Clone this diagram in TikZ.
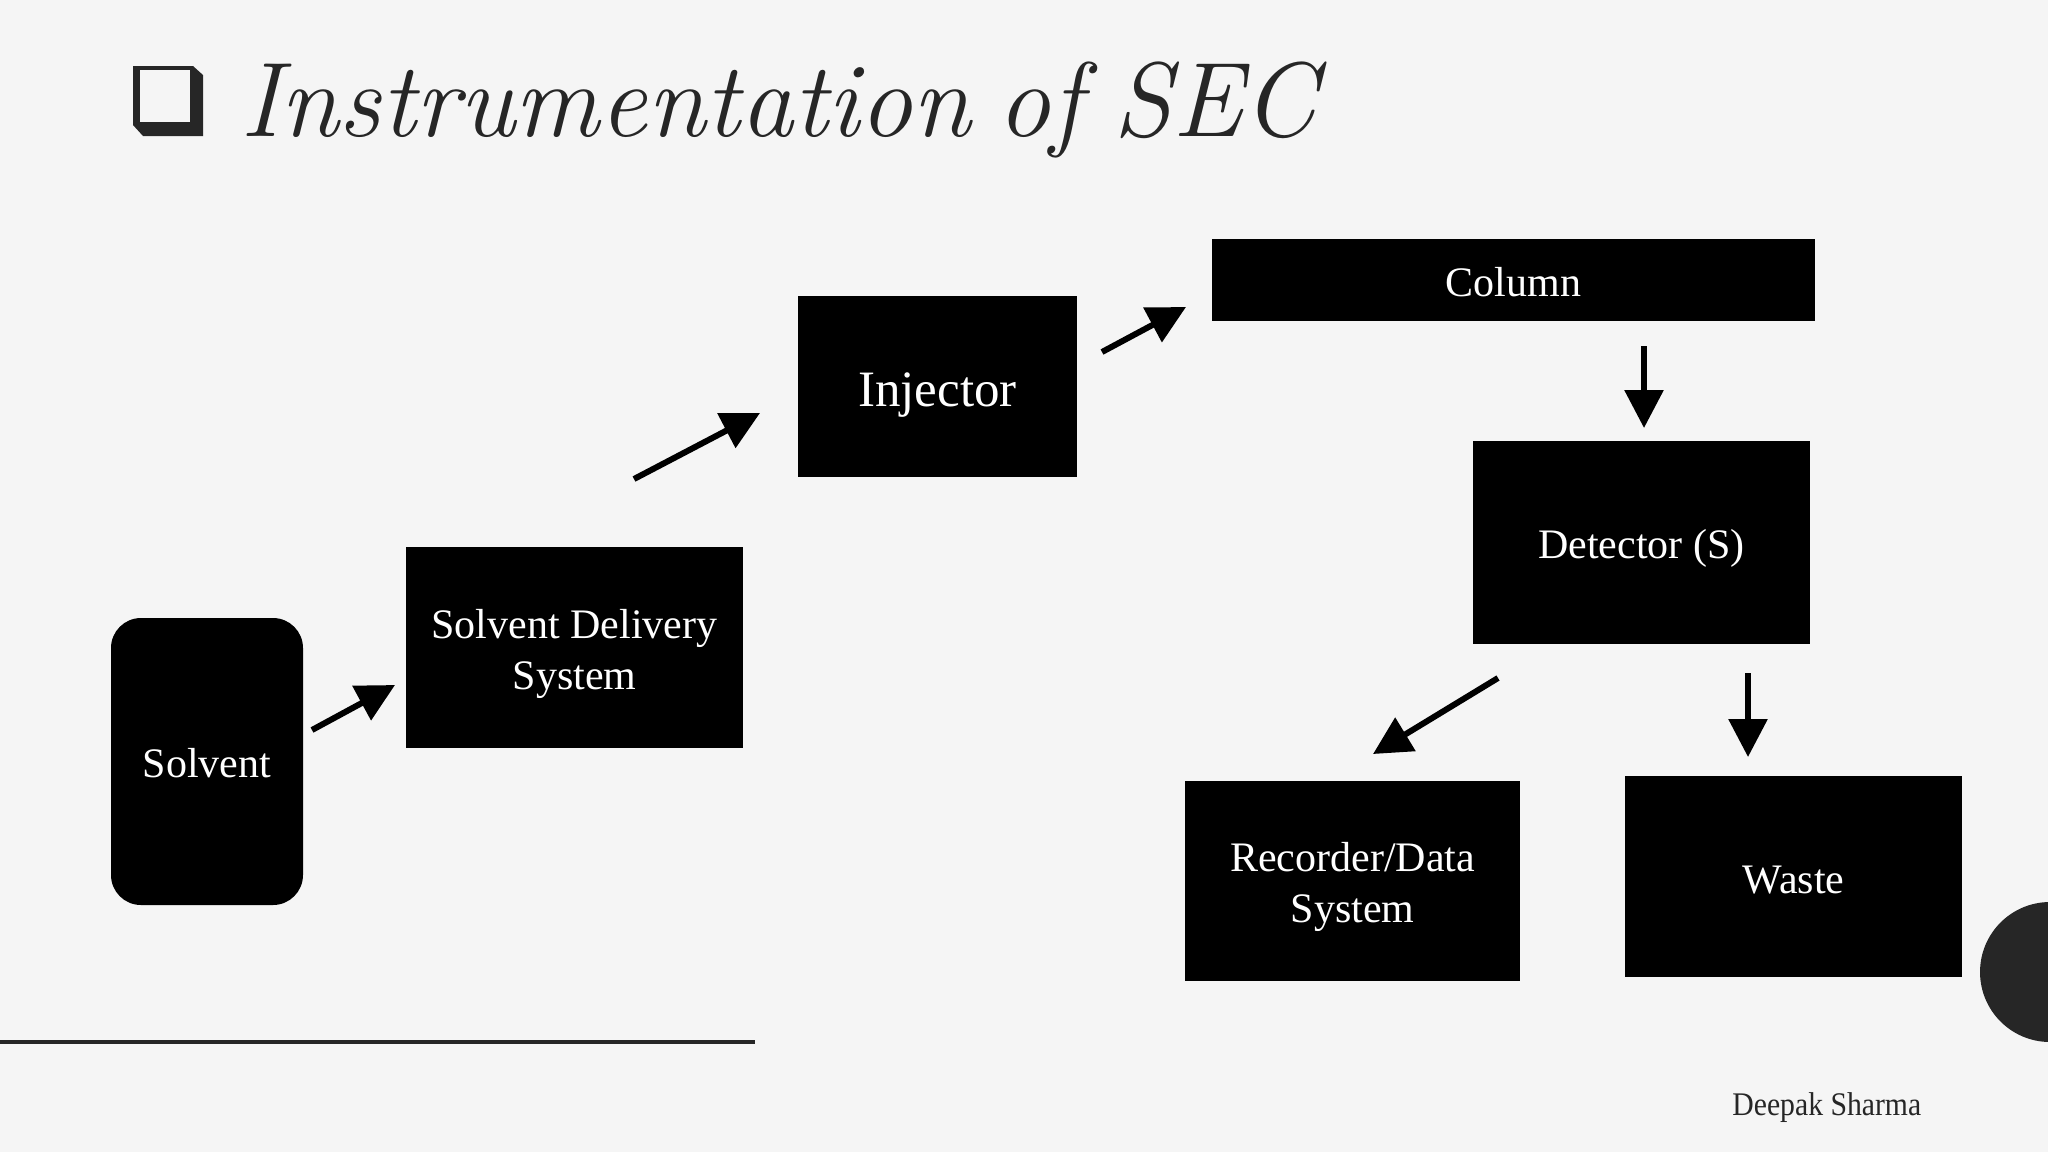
\documentclass[tikz,border=0pt]{standalone}
\usepackage{fontspec}
\newfontfamily\boxfont{Liberation Serif}
\usetikzlibrary{arrows.meta}
\definecolor{bg}{HTML}{F5F5F5}
\definecolor{ink}{HTML}{262626}
\begin{document}
\begin{tikzpicture}[x=0.5pt,y=-0.5pt,
  box/.style={fill=black, inner sep=0pt, text=white, align=center,
    font=\boxfont\fontsize{21}{25.5}\selectfont, text depth=0pt},
  flow/.style={line width=3pt, -{Triangle[length=19pt,width=19pt]}}]
\fill[bg] (0,0) rectangle (2048,1152);
\useasboundingbox (0,0) rectangle (2048,1152);
\begin{scope}
  \clip (0,0) rectangle (2048,1152);
  \fill[ink] (2050,972) circle[radius=35pt];
\end{scope}
% title bullet
\fill[ink] (133,66) -- (193,66) -- (203,75) -- (203,136) -- (143,136) -- (133,125) -- cycle;
\fill[bg] (140,70) rectangle (190,122);
\node[anchor=base west, inner sep=0pt, text=ink,
  font=\fontsize{53}{60}\selectfont\itshape] (title) at (240,136)
  {Instrumentation\hspace{0.25em}of\hspace{0.3em}SEC};
% boxes
\node[box, rounded corners=15pt, minimum width=96pt, minimum height=143.5pt, text height=15.5pt] (solvent) at (207,761.5) {Solvent};
\node[box, minimum width=168.5pt, minimum height=100.5pt, text height=41.5pt] (sds) at (574.5,647.5) {Solvent Delivery\\System};
\node[box, minimum width=139.5pt, minimum height=90.5pt, text height=19.5pt, font=\boxfont\fontsize{25.5}{30}\selectfont] (inj) at (937.5,386.5) {Injector};
\node[box, minimum width=301.5pt, minimum height=41pt, text height=16pt] (col) at (1513.5,280) {Column};
\node[box, minimum width=168.5pt, minimum height=101.5pt, text height=15.5pt] (det) at (1641.5,542.5) {Detector (S)};
\node[box, minimum width=167.5pt, minimum height=100pt, text height=41pt] (rec) at (1352.5,881) {Recorder/Data\\System};
\node[box, minimum width=168.5pt, minimum height=100.5pt, text height=16.5pt] (waste) at (1793.5,876.5) {Waste};
% connector end points
\coordinate (a1s) at (312,730);  \coordinate (a1e) at (395,685);
\coordinate (a2s) at (634,479);  \coordinate (a2e) at (760,413);
\coordinate (a3s) at (1102,352); \coordinate (a3e) at (1186,307);
\coordinate (a4s) at (1644,346); \coordinate (a4e) at (1644,428);
\coordinate (a5s) at (1498,678); \coordinate (a5e) at (1373,754);
\coordinate (a6s) at (1748,673); \coordinate (a6e) at (1748,757);
\draw[flow] (a1s) -- (a1e);
\draw[flow] (a2s) -- (a2e);
\draw[flow] (a3s) -- (a3e);
\draw[flow] (a4s) -- (a4e);
\draw[flow] (a5s) -- (a5e);
\draw[flow] (a6s) -- (a6e);
% rule and author
\coordinate (r1) at (0,1042); \coordinate (r2) at (755,1042);
\draw[ink, line width=2pt] (r1) -- (r2);
\node[anchor=base west, inner sep=0pt, text=ink,
  font=\boxfont\fontsize{16.5}{20}\selectfont] (author) at (1732,1115) {\scalebox{0.9}[1]{Deepak Sharma}};
\end{tikzpicture}
\end{document}
